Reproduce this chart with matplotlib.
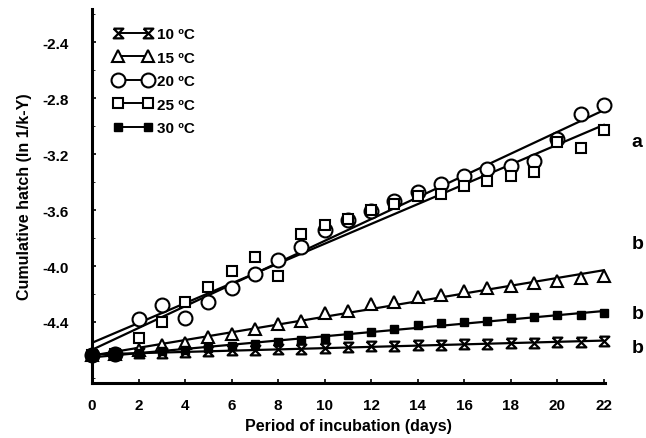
import matplotlib
matplotlib.use("Agg")
import matplotlib.pyplot as plt
import numpy as np

plt.rcParams['font.family'] = ['Liberation Sans', 'DejaVu Sans']
plt.rcParams['font.weight'] = 'bold'

# data (days 0..22)
days = np.arange(0, 23)
t10 = [-4.636, -4.632, -4.625, -4.62, -4.615, -4.61, -4.60, -4.597, -4.593, -4.59, -4.585,
       -4.58, -4.575, -4.572, -4.568, -4.562, -4.56, -4.555, -4.552, -4.548, -4.545, -4.54, -4.535]
t15 = [-4.636, -4.632, -4.60, -4.564, -4.55, -4.51, -4.483, -4.45, -4.414, -4.39, -4.336,
       -4.319, -4.271, -4.26, -4.224, -4.207, -4.176, -4.159, -4.14, -4.121, -4.105, -4.088, -4.069]
t20 = [-4.636, -4.632, -4.379, -4.279, -4.371, -4.255, -4.157, -4.057, -3.955, -3.866, -3.741,
       -3.671, -3.605, -3.534, -3.474, -3.414, -3.359, -3.307, -3.283, -3.248, -3.093, -2.914, -2.848]
t25 = [-4.636, -4.632, -4.517, -4.398, -4.255, -4.152, -4.033, -3.938, -4.074, -3.771, -3.707,
       -3.664, -3.598, -3.557, -3.50, -3.486, -3.431, -3.390, -3.355, -3.326, -3.112, -3.157, -3.026]
t30 = [-4.636, -4.632, -4.62, -4.61, -4.60, -4.585, -4.57, -4.555, -4.545, -4.53, -4.515,
       -4.49, -4.47, -4.45, -4.42, -4.405, -4.398, -4.39, -4.375, -4.367, -4.352, -4.35, -4.338]

labels = ['10 ºC', '15 ºC', '20 ºC', '25 ºC', '30 ºC']
groups = ['a', 'b', 'b', 'b']
group_y = [-3.11, -3.84, -4.34, -4.58]

hourglass = [(-1, 1), (1, 1), (-1, -1), (1, -1), (-1, 1)]

fig = plt.figure(figsize=(6.46, 4.39), dpi=100)
ax = fig.add_axes([0.1424, 0.1253, 0.7941, 0.8517])

styles = [
    (t10, dict(marker=hourglass, ms=7, mfc='white', mec='black', mew=1.6)),
    (t15, dict(marker='^', ms=8, mfc='white', mec='black', mew=1.5)),
    (t20, dict(marker='o', ms=10, mfc='white', mec='black', mew=1.5)),
    (t25, dict(marker='s', ms=7, mfc='white', mec='black', mew=1.5)),
    (t30, dict(marker='s', ms=6, mfc='black', mec='black', mew=1.0)),
]

for (vals, st), lab in zip(styles, labels):
    vals = np.array(vals)
    k, b = np.polyfit(days, vals, 1)
    ax.plot(days, k * days + b, color='black', lw=1.6, zorder=2)
    ax.plot(days, vals, ls='none', clip_on=False, zorder=3, **st)
    ax.plot([], [], color='black', lw=1.4, label=lab, **st)

# day 0 and 1 where all series overlap
ax.plot(days[:2], np.array(t20)[:2], 'o', color='black', ms=10, clip_on=False, zorder=4)

for g, gy in zip(groups, group_y):
    ax.text(23.2, gy, g, fontsize=14, fontweight='bold', va='center')

ax.set_xlim(0, 22.05)
ax.set_ylim(-4.836, -2.164)
ax.set_xticks(np.arange(0, 23, 2))
ax.set_yticks([-4.4, -4.0, -3.6, -3.2, -2.8, -2.4])
ax.set_yticklabels(['-4.4', '-4.0', '-3.6', '-3.2', '-2.8', '-2.4'])
ax.set_yticks(np.arange(-4.8, -2.1, 0.2), minor=True)
ax.tick_params(axis='both', labelsize=11, width=1.2, length=3, direction='in')
ax.tick_params(axis='y', which='minor', length=2, direction='in')
ax.tick_params(axis='x', pad=11)
ax.tick_params(axis='y', pad=17)

for s in ['top', 'right']:
    ax.spines[s].set_visible(False)
for s in ['left', 'bottom']:
    ax.spines[s].set_linewidth(2.2)

ax.set_xlabel('Period of incubation (days)', fontsize=11.5, fontweight='bold', labelpad=4)
ax.set_ylabel('Cumulative hatch (ln 1/k-Y)', fontsize=11.5, fontweight='bold', labelpad=7)

leg = ax.legend(loc='upper left', bbox_to_anchor=(0.02, 0.98), frameon=False, numpoints=2,
                fontsize=11, handlelength=2.6, handletextpad=0.3, labelspacing=0.62,
                borderaxespad=0.3)

fig.savefig('out.png', dpi=100)
